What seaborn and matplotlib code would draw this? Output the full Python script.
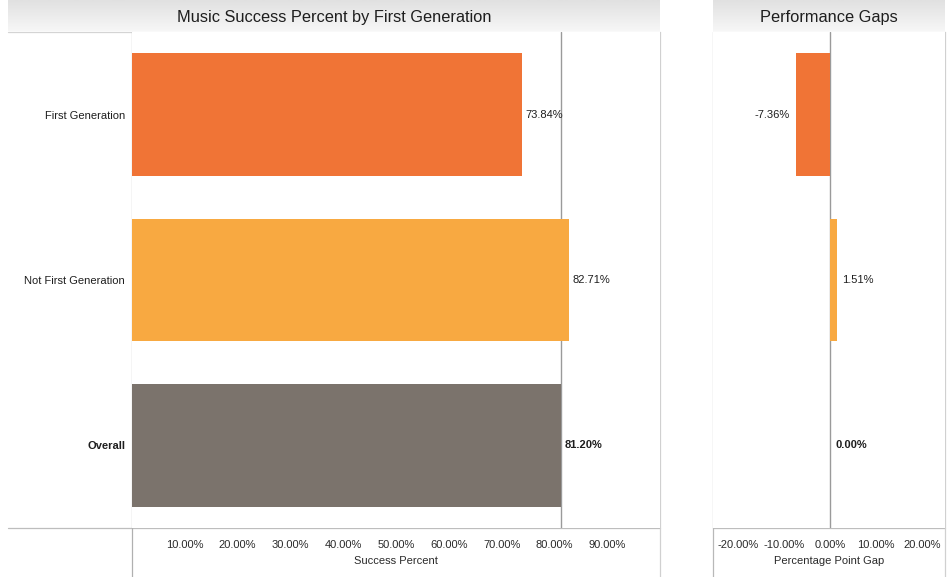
import numpy as np
import pandas as pd
import seaborn as sns
import matplotlib.pyplot as plt
from matplotlib.lines import Line2D

# --- data ---------------------------------------------------------------
groups = ["First Generation", "Not First Generation", "Overall"]
success_pct = [73.84, 82.71, 81.20]
gap_pct = [-7.36, 1.51, 0.00]
success_ticks = [10, 20, 30, 40, 50, 60, 70, 80, 90]
gap_ticks = [-20, -10, 0, 10, 20]
bar_colors = ["#F07436", "#F8A941", "#7B736C"]

sns.set_theme(style="white")
plt.rcParams["font.family"] = ["Liberation Sans", "DejaVu Sans"]

W, H = 949, 577
FS = 8.0
fig = plt.figure(figsize=(W / 100, H / 100), dpi=100)
fig.patch.set_facecolor("white")


def box(x0, y0, x1, y1):
    return [x0 / W, 1 - y1 / H, (x1 - x0) / W, (y1 - y0) / H]


def fig_line(x0, y0, x1, y1, color="#c8c8c8", lw=0.9):
    fig.add_artist(Line2D([x0 / W, x1 / W], [1 - y0 / H, 1 - y1 / H],
                          transform=fig.transFigure, color=color, lw=lw,
                          zorder=0))


def header(x0, x1, title):
    hax = fig.add_axes(box(x0, 0, x1, 31))
    grad = np.linspace(0.88, 0.965, 64).reshape(-1, 1)
    hax.imshow(grad, aspect="auto", cmap="gray", vmin=0, vmax=1,
               extent=[0, 1, 0, 1])
    hax.set_axis_off()
    hax.text(0.5, 0.45, title, ha="center", va="center", fontsize=11.8,
             color="#1e1e1e", transform=hax.transAxes)


df = pd.DataFrame({"group": groups, "success": success_pct, "gap": gap_pct})

# --- left panel: success percent -----------------------------------------
ax1 = fig.add_axes(box(132, 32, 660, 528))
sns.barplot(data=df, x="success", y="group", hue="group", palette=bar_colors,
            saturation=1, width=0.74, linewidth=0, ax=ax1, legend=False,
            zorder=2)
ax1.axvline(success_pct[2], color="#9a9a9a", lw=1.0, zorder=1)
ax1.set_xlim(0, 100)
ax1.set_ylim(2.5, -0.5)
ax1.set_xticks(success_ticks)
ax1.set_xticklabels([f"{t:.2f}%" for t in success_ticks])
ax1.tick_params(axis="x", length=0, pad=9, labelsize=FS, labelcolor="#2a2a2a")
ax1.tick_params(axis="y", length=0, pad=5, labelsize=FS, labelcolor="#1e1e1e")
for lbl in ax1.get_yticklabels():
    if lbl.get_text() == "Overall":
        lbl.set_fontweight("bold")
ax1.set_xlabel("Success Percent", fontsize=FS, color="#2a2a2a", labelpad=4)
ax1.set_ylabel("")
for s in ax1.spines.values():
    s.set_visible(False)

for i, v in enumerate(success_pct):
    ax1.annotate(f"{v:.2f}%", (v, i), xytext=(2.5, 0), textcoords="offset points",
                 ha="left", va="center", fontsize=FS, color="#1e1e1e",
                 fontweight="bold" if groups[i] == "Overall" else "normal")

# --- right panel: gap vs overall -----------------------------------------
ax2 = fig.add_axes(box(713, 32, 945, 528))
sns.barplot(data=df, x="gap", y="group", hue="group", palette=bar_colors,
            saturation=1, width=0.74, linewidth=0, ax=ax2, legend=False,
            zorder=2)
ax2.axvline(0, color="#9a9a9a", lw=1.0, zorder=1)
ax2.set_xlim(-25.5, 25)
ax2.set_ylim(2.5, -0.5)
ax2.set_xticks(gap_ticks)
ax2.set_xticklabels([f"{t:.2f}%" for t in gap_ticks])
ax2.tick_params(axis="x", length=0, pad=9, labelsize=FS, labelcolor="#2a2a2a")
ax2.set_yticks([])
ax2.set_ylabel("")
ax2.set_xlabel("Percentage Point Gap", fontsize=FS, color="#2a2a2a", labelpad=4)
for s in ax2.spines.values():
    s.set_visible(False)

for i, v in enumerate(gap_pct):
    if v < 0:
        xt, ha = -5, "right"
    else:
        xt, ha = 3.5, "left"
    ax2.annotate(f"{v:.2f}%", (v, i), xytext=(xt, 0), textcoords="offset points",
                 ha=ha, va="center", fontsize=FS, color="#1e1e1e",
                 fontweight="bold" if groups[i] == "Overall" else "normal")

# --- headers and pane borders --------------------------------------------
header(8, 660, "Music Success Percent by First Generation")
header(713, 945, "Performance Gaps")

fig_line(8, 31.5, 660, 31.5, color="#d4d4d4")
fig_line(713, 31.5, 945, 31.5, color="#d4d4d4")
fig_line(8, 528, 660, 528, color="#bdbdbd")
fig_line(713, 528, 945, 528, color="#bdbdbd")
fig_line(132, 32, 132, 577, color="#b0b0b0")
fig_line(660, 32, 660, 577, color="#d0d0d0")
fig_line(713, 32, 713, 577, color="#b8b8b8")
fig_line(945, 32, 945, 577, color="#d0d0d0")

fig.savefig("out.png", dpi=100, facecolor="white")
